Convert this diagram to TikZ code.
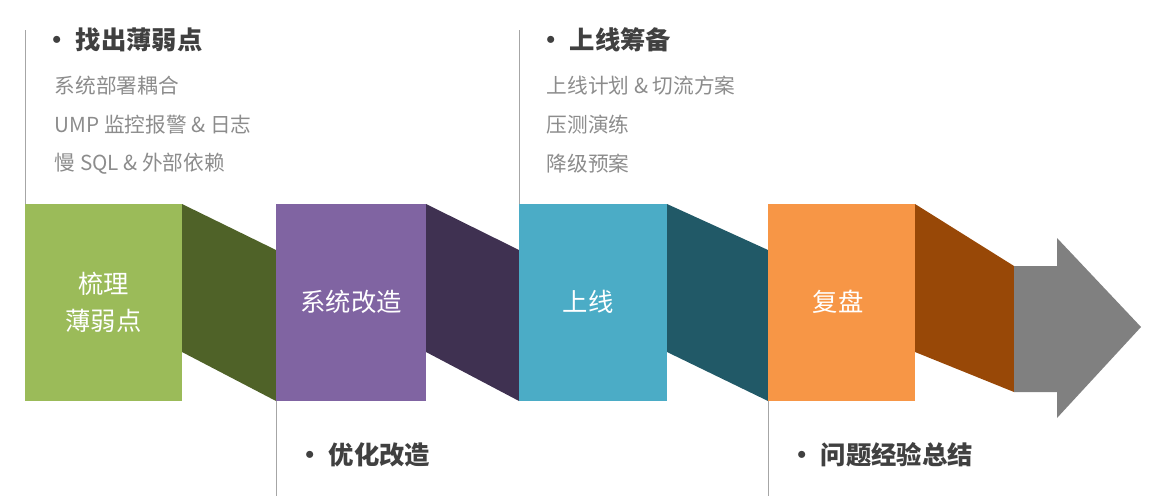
\documentclass[tikz,border=0pt]{standalone}
\usepackage{fontspec}
\setmainfont{Noto Sans CJK SC}
\begin{document}
\begin{tikzpicture}[x=0.75pt,y=-0.75pt,
  hd/.style={anchor=west,font=\fontsize{19}{22}\selectfont\bfseries,text=black!75},
  it/.style={anchor=west,font=\fontsize{15.5}{18}\selectfont,text=black!45},
  lb/.style={font=\fontsize{19}{28}\selectfont,text=white,align=center},
  vl/.style={draw=black!35,line width=0.6pt}]
\useasboundingbox (0,0) rectangle (1169,496);
\definecolor{g1}{HTML}{9BBB59}\definecolor{g2}{HTML}{4F6228}
\definecolor{p1}{HTML}{8064A2}\definecolor{p2}{HTML}{3F3151}
\definecolor{b1}{HTML}{4BACC6}\definecolor{b2}{HTML}{215967}
\definecolor{o1}{HTML}{F79646}\definecolor{o2}{HTML}{984807}
\fill[g2] (182,204)--(276,250)--(276,401)--(182,352)--cycle;
\fill[p2] (426,204)--(519,250)--(519,401)--(426,352)--cycle;
\fill[b2] (667,204)--(768,250)--(768,401)--(667,352)--cycle;
\fill[o2] (915,204)--(1014,266)--(1014,392)--(915,352)--cycle;
\fill[black!50] (1014,266)--(1057,266)--(1057,238)--(1141,327)--(1057,418)--(1057,392)--(1014,392)--cycle;
\fill[g1] (25,204) rectangle (182,401);
\fill[p1] (276,204) rectangle (426,401);
\fill[b1] (519,204) rectangle (667,401);
\fill[o1] (768,204) rectangle (915,401);
\node[lb] (n1) at (103.5,302) {梳理\\薄弱点};
\node[lb] (n2) at (351,302) {系统改造};
\node[lb] (n3) at (588,302) {上线};
\node[lb] (n4) at (838,302) {复盘};
\draw[vl] (25,30)--(25,204);
\draw[vl] (519,30)--(519,204);
\draw[vl] (276,401)--(276,496);
\draw[vl] (768,401)--(768,496);
\node[hd] (h1) at (40,40) {•\ 找出薄弱点};
\node[it] (a1) at (50,86) {系统部署耦合};
\node[it] (a2) at (50,125) {UMP 监控报警 \& 日志};
\node[it] (a3) at (50,164) {慢 SQL \& 外部依赖};
\node[hd] (h2) at (534,40) {•\ 上线筹备};
\node[it] (b1t) at (542,86) {上线计划 \& 切流方案};
\node[it] (b2t) at (542,125) {压测演练};
\node[it] (b3t) at (542,164) {降级预案};
\node[hd] (h3) at (293,455) {•\ 优化改造};
\node[hd] (h4) at (785,455) {•\ 问题经验总结};
\end{tikzpicture}
\end{document}
